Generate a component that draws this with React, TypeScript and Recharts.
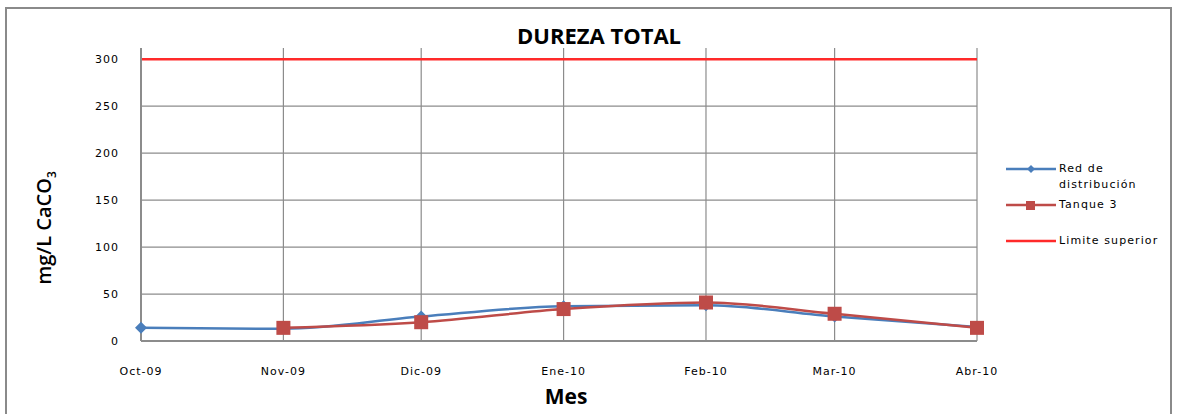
import { LineChart, Line, XAxis, YAxis, CartesianGrid } from "recharts";

const meses = ["Oct-09", "Nov-09", "Dic-09", "Ene-10", "Feb-10", "Mar-10", "Abr-10"];
const fechas = ["2009-10-01", "2009-11-01", "2009-12-01", "2010-01-01", "2010-02-01", "2010-03-01", "2010-04-01"];
const redDistribucion = [14, 13, 26, 37, 38, 26, 15];
const tanque3: (number | null)[] = [null, 14, 20, 34, 41, 29, 14];
const limiteSuperior = [300, 300, 300, 300, 300, 300, 300];
const yTicks = [0, 50, 100, 150, 200, 250, 300];

const inicio = Date.parse(fechas[0]);
const dias = fechas.map((f) => Math.round((Date.parse(f) - inicio) / 86400000));

const data = meses.map((m, i) => ({
  mes: m,
  dia: dias[i],
  red: redDistribucion[i],
  tanque: tanque3[i],
  limite: limiteSuperior[i],
}));

const AZUL = "#4a7ebb";
const ROJO = "#be4b48";
const LIMITE = "#ff2a2a";
const GRID = "#8c8c8c";
const font = "'DejaVu Sans', sans-serif";

const Diamante = (props: any) => {
  const { cx, cy, value } = props;
  if (value == null || cx == null) return null;
  const r = 6;
  return <path key={`d-${cx}`} d={`M${cx},${cy - r}L${cx + r},${cy}L${cx},${cy + r}L${cx - r},${cy}Z`} fill={AZUL} />;
};

const Cuadro = (props: any) => {
  const { cx, cy, value } = props;
  if (value == null || cx == null) return null;
  const s = 7;
  return <rect key={`c-${cx}`} x={cx - s} y={cy - s} width={s * 2} height={s * 2} fill={ROJO} />;
};

const tickStyle = { fontSize: 11, fill: "#000", fontFamily: font, letterSpacing: 1 };

export default function App() {
  return (
    <div style={{ position: "absolute", left: 0, top: 0, width: 1178, height: 414, background: "#fff", overflow: "hidden" }}>
      <div style={{ position: "absolute", left: 5, top: 7, width: 1167, height: 420, border: "2px solid #8a8a8a", boxSizing: "border-box" }} />
      <LineChart width={1178} height={414} data={data} margin={{ top: 48, right: 201, left: 81, bottom: 43 }}>
        <CartesianGrid stroke={GRID} strokeWidth={1.2} horizontalValues={yTicks} />
        <XAxis
          type="number"
          dataKey="dia"
          domain={[0, dias[dias.length - 1]]}
          ticks={dias}
          tickFormatter={(v: number) => meses[dias.indexOf(v)]}
          height={30}
          tickSize={0}
          tickMargin={26}
          stroke={GRID}
          strokeWidth={2}
          tick={tickStyle}
        />
        <YAxis
          domain={[0, 312]}
          ticks={yTicks}
          width={60}
          tickSize={0}
          tickMargin={22}
          stroke={GRID}
          strokeWidth={2}
          tick={tickStyle}
        />
        <Line dataKey="limite" stroke={LIMITE} strokeWidth={2.5} dot={false} isAnimationActive={false} />
        <Line type="monotone" dataKey="red" stroke={AZUL} strokeWidth={2.5} dot={(p: any) => <Diamante {...p} />} isAnimationActive={false} />
        <Line type="monotone" dataKey="tanque" stroke={ROJO} strokeWidth={2.5} dot={(p: any) => <Cuadro {...p} />} isAnimationActive={false} />
      </LineChart>

      <div style={{ position: "absolute", left: 0, width: 1198, top: 20, textAlign: "center", fontFamily: "'Open Sans', sans-serif", fontWeight: 700, fontSize: 22, lineHeight: "30px" }}>
        DUREZA TOTAL
      </div>
      <div style={{ position: "absolute", left: 0, width: 1132, top: 382, textAlign: "center", fontFamily: "'Open Sans', sans-serif", fontWeight: 700, fontSize: 21, lineHeight: "28px" }}>
        Mes
      </div>
      <div
        style={{
          position: "absolute",
          left: 45,
          top: 228,
          transform: "translate(-50%, -50%) rotate(-90deg)",
          whiteSpace: "nowrap",
          fontFamily: "'Open Sans', sans-serif",
          fontWeight: 600,
          fontSize: 20,
        }}
      >
        mg/L CaCO<sub style={{ fontSize: 12 }}>3</sub>
      </div>

      <div style={{ position: "absolute", left: 1004, top: 160, fontFamily: font, fontSize: 11, color: "#000" }}>
        {[
          { nombre: ["Red de", "distribución"], color: AZUL, marca: "diamante", top: 0 },
          { nombre: ["Tanque 3"], color: ROJO, marca: "cuadro", top: 36 },
          { nombre: ["Limite superior"], color: LIMITE, marca: "", top: 72 },
        ].map((e) => (
          <div key={e.nombre[0]} style={{ position: "absolute", top: e.top, left: 0, width: 175 }}>
            <svg width={56} height={14} style={{ position: "absolute", left: 0, top: 2 }}>
              <line x1={2} y1={7} x2={52} y2={7} stroke={e.color} strokeWidth={2.5} />
              {e.marca === "diamante" && <path d="M27,3L31,7L27,11L23,7Z" fill={e.color} />}
              {e.marca === "cuadro" && <rect x={22} y={3} width={9} height={9} fill={e.color} />}
            </svg>
            <div style={{ position: "absolute", left: 55, top: 1, lineHeight: "16px", letterSpacing: 1.1 }}>
              {e.nombre.map((n) => (
                <div key={n}>{n}</div>
              ))}
            </div>
          </div>
        ))}
      </div>
    </div>
  );
}
